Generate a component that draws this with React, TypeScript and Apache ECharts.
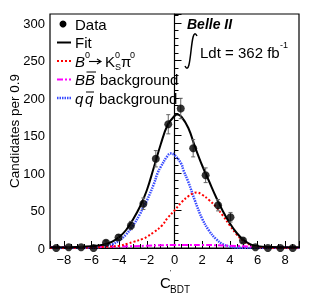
import React, { useEffect, useRef } from "react";
import * as echarts from "echarts";

// Histogram data (bin width 0.9 from -9 to 9)
const binCenters = [-8.55, -7.65, -6.75, -5.85, -4.95, -4.05, -3.15, -2.25, -1.35, -0.45, 0.45, 1.35, 2.25, 3.15, 4.05, 4.95, 5.85, 6.75, 7.65, 8.55];
const counts = [0, 1, 1, 0, 7, 14, 30, 59, 119, 165, 186, 133, 97, 57, 41, 10, 1, 0, 0, 0];
const countErrors = [0, 1, 1, 0, 2.6, 3.7, 5.5, 7.7, 10.9, 12.8, 13.6, 11.5, 9.8, 7.5, 6.4, 3.2, 1, 0, 0, 0];

// Fit curve (total)
const fitX = [-9, -8, -7, -6, -5.5, -5, -4.5, -4, -3.5, -3, -2.5, -2, -1.5, -1, -0.5, 0, 0.2, 0.5, 1, 1.5, 2, 2.5, 3, 3.5, 4, 4.5, 5, 5.5, 6, 7, 8, 9];
const fitY = [1, 1.1, 1.4, 2.2, 3.3, 5, 8.5, 14.5, 24, 38, 55, 77, 107, 138, 164, 176, 178, 175, 160, 134, 110, 89, 68, 49, 33, 20, 10.5, 4.8, 2.2, 1.2, 1, 0.9];

// Signal B0 -> K0S pi0
const sigX = [-9, -8, -7, -6, -5, -4, -3.34, -3, -2.24, -2, -1.5, -0.9, -0.5, 0, 0.32, 0.5, 1, 1.3, 1.6, 2, 2.5, 3, 3.5, 4, 4.5, 5, 5.5, 6, 6.5, 7, 8, 9];
const sigY = [0, 0.05, 0.2, 0.6, 1.5, 3, 6, 8, 12.5, 15, 21, 30, 40, 50, 57, 61, 69, 72.5, 74, 71, 64, 55, 43, 30, 18, 9, 4, 1.5, 0.5, 0.2, 0, 0];

// BBbar background
const bbX = [-9, -6, -4, -2, 0, 2, 4, 6, 9];
const bbY = [1, 1.5, 2, 3, 4, 4, 3, 1.5, 0.8];

// qqbar background
const qqX = [-9, -8, -7, -6, -5.5, -5, -4.5, -4, -3.5, -3, -2.5, -2.24, -2, -1.5, -1.22, -1, -0.5, -0.29, 0, 0.5, 0.64, 1, 1.5, 2, 2.5, 3, 3.5, 4, 4.5, 5, 6, 7, 8, 9];
const qqY = [0, 0, 0.05, 0.4, 1, 2.5, 5, 10, 18, 30, 45, 55, 63, 85, 100, 108, 123, 126, 124, 112, 104, 88, 62, 39, 23, 12, 5, 2, 0.6, 0.2, 0, 0, 0, 0];

const FONT = "'Liberation Sans', Arial, Helvetica, sans-serif";

const pairs = (xs: number[], ys: number[]) => xs.map((x, i) => [x, ys[i]]);

export default function App() {
  const ref = useRef<HTMLDivElement>(null);
  useEffect(() => {
    const chart = echarts.init(ref.current!, null, { renderer: "svg" });
    const txt = (x: number, y: number, text: string, size: number, extra: any = {}) => ({
      type: "text",
      x,
      y,
      style: {
        text,
        fontSize: size,
        fontFamily: FONT,
        fill: "#000",
        verticalAlign: "middle",
        align: "left",
        ...extra,
      },
    });
    const legLine = (y: number, color: string, dash: any, width: number) => ({
      type: "line",
      shape: { x1: 57, y1: y, x2: 71, y2: y },
      style: { stroke: color, lineWidth: width, lineDash: dash },
    });

    chart.setOption({
      animation: false,
      grid: {
        left: 50,
        right: 16,
        top: 14,
        bottom: 47,
        show: true,
        borderColor: "#000",
        borderWidth: 1.2,
      },
      xAxis: {
        type: "value",
        min: -9,
        max: 9,
        splitNumber: 9,
        axisLine: { show: true, onZero: false, lineStyle: { color: "#000", width: 1.2 } },
        axisTick: { show: true, inside: true, length: 7, lineStyle: { color: "#000" } },
        minorTick: { show: true, splitNumber: 4, length: 4, lineStyle: { color: "#000" } },
        splitLine: { show: false },
        axisLabel: {
          showMinLabel: false,
          showMaxLabel: false,
          fontSize: 13,
          color: "#000",
          fontFamily: FONT,
          margin: 5,
          formatter: (v: number) => String(v).replace("-", "\u2212"),
        },
      },
      yAxis: {
        type: "value",
        min: 0,
        max: 312,
        interval: 50,
        axisLine: { show: true, lineStyle: { color: "#000", width: 1.2 } },
        axisTick: { show: true, inside: true, length: 7, lineStyle: { color: "#000" } },
        minorTick: { show: true, splitNumber: 5, length: 4, lineStyle: { color: "#000" } },
        splitLine: { show: false },
        axisLabel: {
          showMaxLabel: false,
          fontSize: 13,
          color: "#000",
          fontFamily: FONT,
          margin: 5,
        },
      },
      series: [
        {
          type: "line",
          data: pairs(qqX, qqY),
          smooth: 0.4,
          showSymbol: false,
          lineStyle: { color: "#3a4cff", width: 2.5, type: [1.5, 1] },
          z: 2,
        },
        {
          type: "line",
          data: pairs(bbX, bbY),
          smooth: 0.4,
          showSymbol: false,
          lineStyle: { color: "#ff00ff", width: 2, type: [6, 2, 2, 2] },
          z: 2,
        },
        {
          type: "line",
          data: pairs(sigX, sigY),
          smooth: 0.4,
          showSymbol: false,
          lineStyle: { color: "#ff0000", width: 2, type: [2, 2] },
          z: 3,
        },
        {
          type: "line",
          data: pairs(fitX, fitY),
          smooth: 0.4,
          showSymbol: false,
          lineStyle: { color: "#000", width: 2 },
          z: 4,
        },
        {
          type: "custom",
          data: binCenters.map((x, i) => [x, counts[i], countErrors[i]]),
          encode: { x: 0, y: 1 },
          z: 5,
          renderItem: (params: any, api: any) => {
            const x = api.value(0);
            const y = api.value(1);
            const e = api.value(2);
            if (!e) return { type: "group", children: [] };
            const top = api.coord([x, y + e]);
            const bot = api.coord([x, y - e]);
            const cap = 2;
            const st = { stroke: "#666", lineWidth: 1 };
            return {
              type: "group",
              children: [
                { type: "line", shape: { x1: top[0], y1: top[1], x2: bot[0], y2: bot[1] }, style: st },
                { type: "line", shape: { x1: top[0] - cap, y1: top[1], x2: top[0] + cap, y2: top[1] }, style: st },
                { type: "line", shape: { x1: bot[0] - cap, y1: bot[1], x2: bot[0] + cap, y2: bot[1] }, style: st },
              ],
            };
          },
        },
        {
          type: "scatter",
          data: pairs(binCenters, counts),
          symbol: "circle",
          symbolSize: 8,
          itemStyle: { color: "#000" },
          z: 6,
        },
      ],
      graphic: [
        // Legend
        { type: "circle", shape: { cx: 63, cy: 24, r: 3.5 }, style: { fill: "#000" } },
        txt(75, 24, "Data", 15),
        legLine(42.5, "#000", null, 2),
        txt(75, 42.5, "Fit", 15),
        legLine(61, "#ff0000", [2, 2], 2),
        txt(75, 61, "B", 15, { fontStyle: "italic" }),
        txt(85, 55, "0", 9),
        { type: "line", shape: { x1: 89, y1: 61.5, x2: 100, y2: 61.5 }, style: { stroke: "#000", lineWidth: 1.1 } },
        { type: "polyline", shape: { points: [[97, 59], [101, 61.5], [97, 64]] }, style: { stroke: "#000", lineWidth: 1.1, fill: null } },
        txt(105, 61, "K", 15),
        txt(115, 55, "0", 9),
        txt(115, 67, "S", 9),
        txt(121, 61, "\u03c0", 15),
        txt(130, 55, "0", 9),
        legLine(79.5, "#ff00ff", [6, 2, 2, 2], 2),
        txt(75, 79.5, "B", 15, { fontStyle: "italic" }),
        txt(85, 79.5, "B", 15, { fontStyle: "italic" }),
        { type: "line", shape: { x1: 86.5, y1: 72, x2: 96, y2: 72 }, style: { stroke: "#000", lineWidth: 1 } },
        txt(100, 79.5, "background", 15),
        legLine(98, "#3a4cff", [1.5, 1], 2.5),
        txt(75, 98, "q", 15, { fontStyle: "italic" }),
        txt(85, 98, "q", 15, { fontStyle: "italic" }),
        { type: "line", shape: { x1: 86, y1: 92, x2: 94, y2: 92 }, style: { stroke: "#000", lineWidth: 1 } },
        txt(99, 98, "background", 15),
        // Belle II label
        txt(187, 24, "Belle II", 14, { fontWeight: "bold", fontStyle: "italic" }),
        {
          type: "bezierCurve",
          shape: { x1: 197, y1: 36, cpx1: 190, cpy1: 22, cpx2: 192, cpy2: 80, x2: 185, y2: 66 },
          style: { stroke: "#000", lineWidth: 1.5, fill: null },
        },
        txt(200, 52, "Ldt = 362 fb", 15),
        txt(280, 45, "-1", 9),
        // Axis titles
        {
          type: "text",
          x: 14,
          y: 131,
          rotation: Math.PI / 2,
          style: {
            text: "Candidates per 0.9",
            fontSize: 13.5,
            fontFamily: FONT,
            fill: "#000",
            align: "center",
            verticalAlign: "middle",
          },
        },
        txt(160, 282, "C", 15),
        txt(170, 272, "'", 7),
        txt(170, 289, "BDT", 10),
      ],
    });
    return () => chart.dispose();
  }, []);
  return <div ref={ref} style={{ position: "fixed", left: 0, top: 0, width: 315, height: 295 }} />;
}
